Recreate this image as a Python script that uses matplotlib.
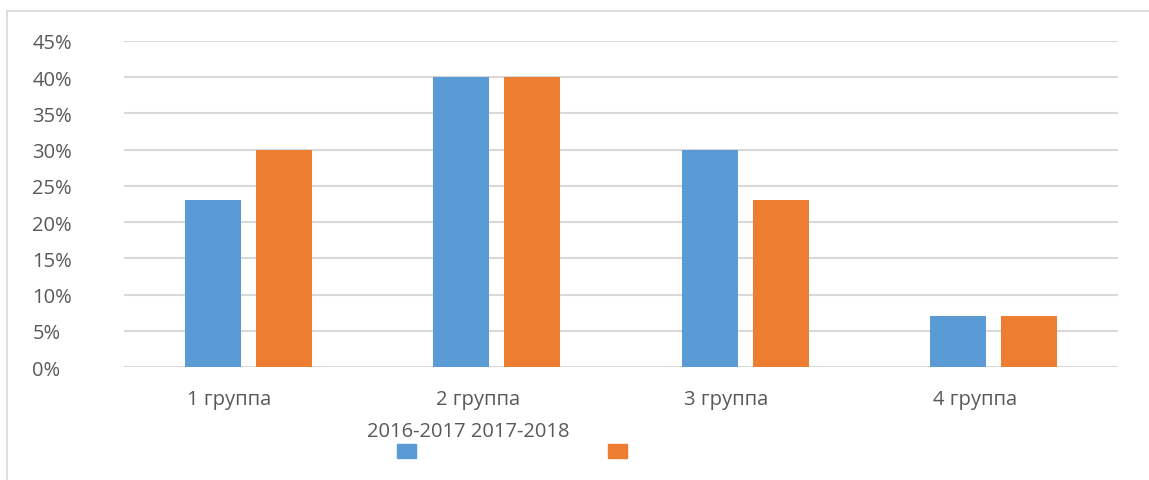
import numpy as np
import matplotlib.pyplot as plt
from matplotlib.lines import Line2D
from matplotlib.transforms import ScaledTranslation

# data
groups = ["1 группа", "2 группа", "3 группа", "4 группа"]
y2016 = [23, 40, 30, 7]
y2017 = [30, 40, 23, 7]
series_names = ["2016-2017", "2017-2018"]
yticks = [0, 5, 10, 15, 20, 25, 30, 35, 40, 45]

plt.rcParams['font.family'] = ['Open Sans', 'DejaVu Sans']
txt = '#595959'
blue = '#5b9bd5'
orange = '#ed7d31'
fs = 14.5

W, H = 1149, 481
fig = plt.figure(figsize=(W / 100, H / 100), dpi=100)
ax = fig.add_axes([124 / W, 1 - 368 / H, (1118 - 124) / W, (368 - 42) / H])

x = np.arange(len(groups))
bw = 0.225
off = 0.143
ax.bar(x - off, y2016, bw, color=blue, zorder=3)
ax.bar(x + off, y2017, bw, color=orange, zorder=3)

ax.set_xlim(-0.5, len(groups) - 0.5)
ax.set_ylim(0, 45)
ax.set_yticks(yticks)
ax.set_yticklabels([f"{v}%" for v in yticks])
ax.set_xticks(x)
ax.set_xticklabels(groups)
ax.tick_params(axis='both', length=0, labelsize=fs, colors=txt)
ax.tick_params(axis='y', pad=66)
ax.tick_params(axis='x', pad=16)
for lab in ax.get_yticklabels():
    lab.set_horizontalalignment('left')
# category labels sit a bit left of the bar pairs
shift = ScaledTranslation(-19 / 100, 0, fig.dpi_scale_trans)
for lab in ax.get_xticklabels():
    lab.set_transform(lab.get_transform() + shift)
ax.grid(axis='y', color='#d9d9d9', lw=1.5, zorder=0)
for s in ax.spines.values():
    s.set_visible(False)

# legend: odd Excel layout, text on one line with squares below
fig.text(367 / W, 1 - 432 / H, " ".join(series_names), fontsize=fs, color=txt,
         ha='left', va='center')
fig.patches.append(plt.Rectangle((397 / W, 1 - 459 / H), 19 / W, 14 / H,
                                 color=blue, transform=fig.transFigure, figure=fig))
fig.patches.append(plt.Rectangle((608 / W, 1 - 459 / H), 19 / W, 14 / H,
                                 color=orange, transform=fig.transFigure, figure=fig))

# chart frame (cut off at right and bottom)
fig.add_artist(Line2D([7 / W, 1.0], [1 - 12 / H, 1 - 12 / H], color='#d9d9d9', lw=1.2,
                      transform=fig.transFigure))
fig.add_artist(Line2D([7 / W, 7 / W], [0.0, 1 - 12 / H], color='#d9d9d9', lw=1.2,
                      transform=fig.transFigure))

fig.savefig("out.png", dpi=100)
